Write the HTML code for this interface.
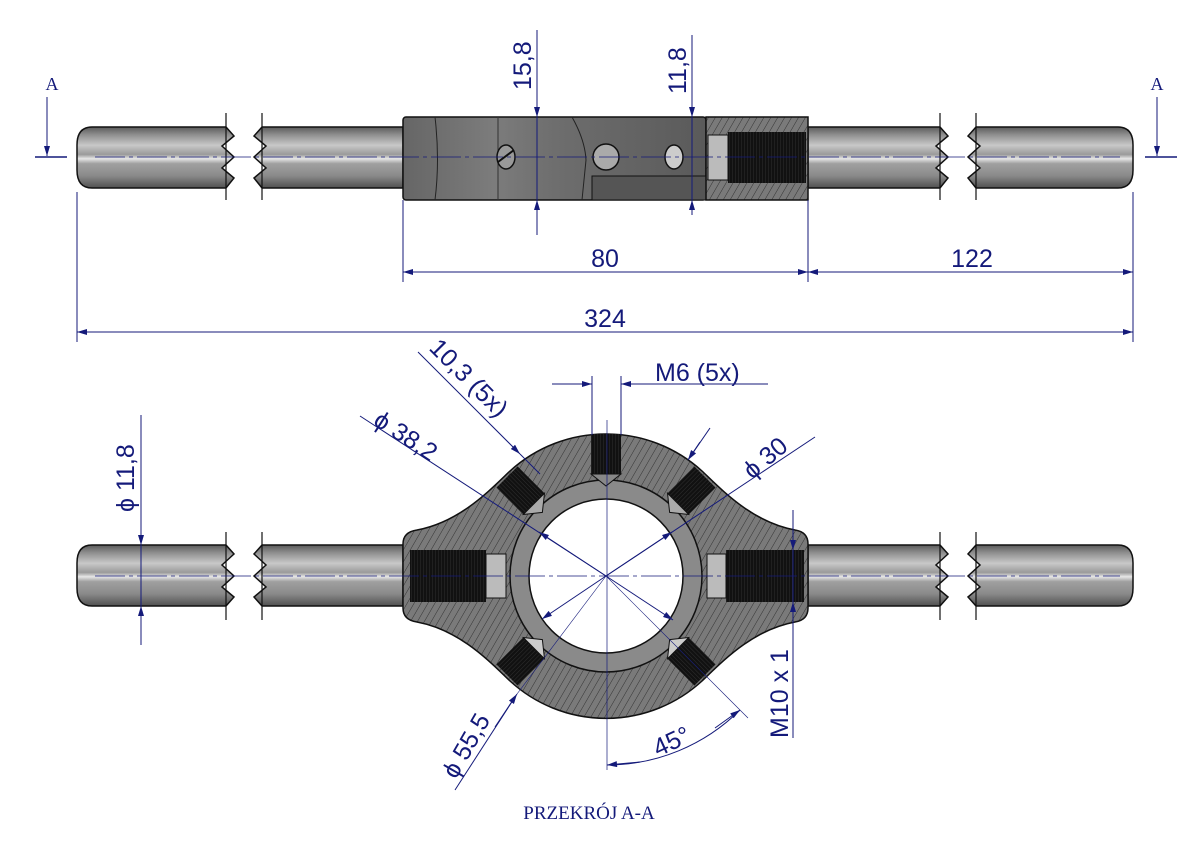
<!DOCTYPE html>
<html><head><meta charset="utf-8"><style>
html,body{margin:0;padding:0;background:#fff;}
svg{display:block;}
text{font-family:"Liberation Sans",sans-serif;fill:#141a7a;}
</style></head><body>
<svg width="1191" height="842" viewBox="0 0 1191 842" xmlns="http://www.w3.org/2000/svg">
<defs>
<linearGradient id="rod" x1="0" y1="0" x2="0" y2="1">
<stop offset="0" stop-color="#5a5a5a"/><stop offset="0.12" stop-color="#8c8c8c"/>
<stop offset="0.3" stop-color="#c8c8c8"/><stop offset="0.45" stop-color="#9a9a9a"/>
<stop offset="0.52" stop-color="#e6e6e6"/><stop offset="0.6" stop-color="#a0a0a0"/>
<stop offset="0.8" stop-color="#8a8a8a"/><stop offset="1" stop-color="#505050"/>
</linearGradient>
<linearGradient id="body" x1="0" y1="0" x2="1" y2="0">
<stop offset="0" stop-color="#666"/><stop offset="0.3" stop-color="#7c7c7c"/><stop offset="0.5" stop-color="#6e6e6e"/><stop offset="1" stop-color="#5a5a5a"/>
</linearGradient>
<pattern id="hatch" width="6" height="6" patternUnits="userSpaceOnUse" patternTransform="rotate(30)">
<rect width="6" height="6" fill="#7a7a7a"/><line x1="0" y1="0" x2="0" y2="6" stroke="#333" stroke-width="1"/>
</pattern>
<pattern id="thr" width="3" height="3" patternUnits="userSpaceOnUse">
<rect width="3" height="3" fill="#111"/><line x1="0" y1="0" x2="0" y2="3" stroke="#444" stroke-width="0.6"/>
</pattern>
<marker id="ar" viewBox="0 0 10 6" refX="10" refY="3" markerWidth="14" markerHeight="6" markerUnits="userSpaceOnUse" orient="auto-start-reverse"><path d="M0,0 L10,3 L0,6 Z" fill="#141a7a"/></marker>
</defs>

<!-- ================= TOP VIEW ================= -->
<g stroke="#111" stroke-width="1.5">
<path d="M92,127 L226,127 L234,136 L222,146 L234,157 L222,168 L234,178 L226,188 L92,188 Q77,188 77,170 L77,145 Q77,127 92,127 Z" fill="url(#rod)"/>
<path d="M262,127 L403,127 L403,188 L262,188 L254,178 L266,168 L254,157 L266,146 L254,136 Z" fill="url(#rod)"/>
<path d="M808,127 L940,127 L948,136 L936,146 L948,157 L936,168 L948,178 L940,188 L808,188 Z" fill="url(#rod)"/>
<path d="M976,127 L1118,127 Q1133,127 1133,145 L1133,170 Q1133,188 1118,188 L976,188 L968,178 L980,168 L968,157 L980,146 L968,136 Z" fill="url(#rod)"/>
</g>
<g stroke="#111" stroke-width="1.2" fill="none">
<line x1="226" y1="113" x2="226" y2="200"/><line x1="262" y1="113" x2="262" y2="200"/>
<line x1="940" y1="113" x2="940" y2="200"/><line x1="976" y1="113" x2="976" y2="200"/>
</g>
<rect x="403" y="117" width="303" height="83" rx="3" fill="url(#body)" stroke="#111" stroke-width="1.5"/>
<path d="M572,117 Q585,140 586,160 L582,200" stroke="#222" fill="none"/>
<path d="M435,117 Q440,160 435,200" stroke="#222" fill="none"/>
<path d="M498,117 L498,200" stroke="#333" fill="none"/>
<rect x="592" y="176" width="114" height="24" fill="#555" stroke="#111"/>
<rect x="706" y="117" width="102" height="83" fill="url(#hatch)" stroke="#111" stroke-width="1.5"/>
<rect x="708" y="135" width="20" height="45" fill="#bbb" stroke="#111"/>
<rect x="728" y="132" width="78" height="51" fill="url(#thr)"/>
<ellipse cx="506" cy="157" rx="9" ry="12" fill="#999" stroke="#111" stroke-width="1.5"/>
<line x1="498" y1="162" x2="514" y2="150" stroke="#111" stroke-width="2"/>
<circle cx="606" cy="157" r="13" fill="#aaa" stroke="#111" stroke-width="1.5"/>
<ellipse cx="674" cy="157" rx="9" ry="12" fill="#ccc" stroke="#111" stroke-width="1.5"/>
<line x1="95" y1="157" x2="1120" y2="157" stroke="#141a7a" stroke-width="0.7" stroke-dasharray="30,4,4,4"/>

<g stroke="#141a7a" stroke-width="1" fill="none">
<line x1="537" y1="30" x2="537" y2="235"/>
<line x1="537" y1="80" x2="537" y2="117" marker-end="url(#ar)"/>
<line x1="537" y1="235" x2="537" y2="200" marker-end="url(#ar)"/>
<line x1="692" y1="35" x2="692" y2="215"/>
<line x1="692" y1="80" x2="692" y2="117" marker-end="url(#ar)"/>
<line x1="692" y1="215" x2="692" y2="200" marker-end="url(#ar)"/>
<line x1="403" y1="200" x2="403" y2="282"/><line x1="808" y1="200" x2="808" y2="282"/>
<line x1="77" y1="192" x2="77" y2="342"/><line x1="1133" y1="192" x2="1133" y2="342"/>
<line x1="403" y1="272" x2="808" y2="272" marker-start="url(#ar)" marker-end="url(#ar)"/>
<line x1="808" y1="272" x2="1133" y2="272" marker-start="url(#ar)" marker-end="url(#ar)"/>
<line x1="77" y1="332" x2="1133" y2="332" marker-start="url(#ar)" marker-end="url(#ar)"/>
<line x1="47" y1="97" x2="47" y2="156" marker-end="url(#ar)"/><line x1="35" y1="157" x2="67" y2="157" stroke-width="1.5"/>
<line x1="1157" y1="97" x2="1157" y2="156" marker-end="url(#ar)"/><line x1="1145" y1="157" x2="1177" y2="157" stroke-width="1.5"/>
</g>
<text x="52" y="90" font-size="18" text-anchor="middle" style="font-family:'Liberation Serif',serif">A</text>
<text x="1157" y="90" font-size="18" text-anchor="middle" style="font-family:'Liberation Serif',serif">A</text>
<text transform="translate(531,90) rotate(-90)" font-size="25">15,8</text>
<text transform="translate(686,94) rotate(-90)" font-size="25">11,8</text>
<text x="605" y="267" font-size="25" text-anchor="middle">80</text>
<text x="972" y="267" font-size="25" text-anchor="middle">122</text>
<text x="605" y="327" font-size="25" text-anchor="middle">324</text>

<!-- ================= BOTTOM VIEW ================= -->
<g stroke="#111" stroke-width="1.5">
<path d="M92,545 L226,545 L234,554 L222,565 L234,576 L222,587 L234,597 L226,606 L92,606 Q77,606 77,588 L77,563 Q77,545 92,545 Z" fill="url(#rod)"/>
<path d="M262,545 L403,545 L403,606 L262,606 L254,597 L266,587 L254,576 L266,565 L254,554 Z" fill="url(#rod)"/>
<path d="M808,545 L940,545 L948,554 L936,565 L948,576 L936,587 L948,597 L940,606 L808,606 Z" fill="url(#rod)"/>
<path d="M976,545 L1118,545 Q1133,545 1133,563 L1133,588 Q1133,606 1118,606 L976,606 L968,597 L980,587 L968,576 L980,565 L968,554 Z" fill="url(#rod)"/>
</g>
<g stroke="#111" stroke-width="1.2">
<line x1="226" y1="532" x2="226" y2="620"/><line x1="262" y1="532" x2="262" y2="620"/>
<line x1="940" y1="532" x2="940" y2="620"/><line x1="976" y1="532" x2="976" y2="620"/>
</g>
<path d="M606,434 A142,142 0 0 1 702,471 C722,490 752,522 795,530 Q808,532 808,544 L808,608 Q808,620 795,622 C752,630 722,662 702,681 A142,142 0 0 1 510,681 C490,662 460,630 417,622 Q403,620 403,608 L403,544 Q403,532 417,530 C460,522 490,490 510,471 A142,142 0 0 1 606,434 Z" fill="url(#hatch)" stroke="#111" stroke-width="1.5"/>
<g>
<rect x="410" y="550" width="76" height="52" fill="url(#thr)"/>
<rect x="486" y="554" width="20" height="44" fill="#bbb" stroke="#111"/>
<rect x="726" y="550" width="78" height="52" fill="url(#thr)"/>
<rect x="707" y="554" width="19" height="44" fill="#bbb" stroke="#111"/>
</g>
<circle cx="606" cy="576" r="96" fill="#8a8a8a" stroke="#111" stroke-width="1.5"/>
<circle cx="606" cy="576" r="77" fill="#fff" stroke="#111" stroke-width="1.5"/>
<g transform="translate(606,576)">
<g><rect x="-15" y="-142" width="30" height="40" fill="url(#thr)"/><path d="M-15,-102 L15,-102 L0,-90 Z" fill="#888" stroke="#111"/></g>
<g transform="rotate(45)"><rect x="-15" y="-140" width="30" height="38" fill="url(#thr)"/><path d="M-15,-102 L15,-102 L0,-90 Z" fill="#aaa" stroke="#111"/></g>
<g transform="rotate(-45)"><rect x="-15" y="-140" width="30" height="38" fill="url(#thr)"/><path d="M-15,-102 L15,-102 L0,-90 Z" fill="#aaa" stroke="#111"/></g>
<g transform="rotate(135)"><rect x="-15" y="-140" width="30" height="38" fill="url(#thr)"/><path d="M-15,-102 L15,-102 L0,-90 Z" fill="#ccc" stroke="#111"/></g>
<g transform="rotate(-135)"><rect x="-15" y="-140" width="30" height="38" fill="url(#thr)"/><path d="M-15,-102 L15,-102 L0,-90 Z" fill="#ccc" stroke="#111"/></g>
</g>
<g stroke="#141a7a" stroke-width="0.7" fill="none">
<line x1="95" y1="576" x2="1120" y2="576" stroke-dasharray="30,4,4,4"/>
<line x1="607" y1="420" x2="607" y2="770"/>
</g>
<g stroke="#141a7a" stroke-width="1" fill="none">
<line x1="141" y1="415" x2="141" y2="645"/>
<line x1="141" y1="520" x2="141" y2="545" marker-end="url(#ar)"/>
<line x1="141" y1="630" x2="141" y2="606" marker-end="url(#ar)"/>
<line x1="592" y1="376" x2="592" y2="435"/><line x1="621" y1="376" x2="621" y2="435"/>
<line x1="552" y1="384" x2="592" y2="384" marker-end="url(#ar)"/>
<line x1="768" y1="384" x2="621" y2="384" marker-end="url(#ar)"/>
<line x1="418" y1="352" x2="520" y2="454" marker-end="url(#ar)"/>
<line x1="520" y1="454" x2="540" y2="474"/>
<line x1="360" y1="416" x2="606" y2="576"/>
<line x1="606" y1="576" x2="539" y2="532" marker-end="url(#ar)"/>
<line x1="606" y1="576" x2="673" y2="620" marker-end="url(#ar)"/>
<line x1="815" y1="437" x2="606" y2="576"/>
<line x1="606" y1="576" x2="672" y2="532" marker-end="url(#ar)"/>
<line x1="606" y1="576" x2="542" y2="619" marker-end="url(#ar)"/>
<line x1="710" y1="428" x2="688" y2="460"/>
<line x1="700" y1="442" x2="688" y2="460" marker-end="url(#ar)"/>
<line x1="455" y1="790" x2="515" y2="697" />
<line x1="495" y1="727" x2="517" y2="694" marker-end="url(#ar)"/>
<line x1="517" y1="694" x2="606" y2="576" stroke-width="0.6"/>
<line x1="606" y1="576" x2="748" y2="718" stroke-width="0.6"/>
<path d="M607,765 A189,189 0 0 0 740,710" />
<line x1="640" y1="762" x2="607" y2="765" marker-end="url(#ar)"/>
<line x1="715" y1="728" x2="740" y2="710" marker-end="url(#ar)"/>
<line x1="793" y1="510" x2="793" y2="738"/>
<line x1="793" y1="520" x2="793" y2="550" marker-end="url(#ar)"/>
<line x1="793" y1="630" x2="793" y2="602" marker-end="url(#ar)"/>
</g>
<text transform="translate(134,512) rotate(-90)" font-size="25">ϕ 11,8</text>
<text x="655" y="381" font-size="25">M6 (5x)</text>
<text transform="translate(428,349) rotate(45)" font-size="25">10,3  (5x)</text>
<text transform="translate(372,424) rotate(33)" font-size="25">ϕ 38,2</text>
<text transform="translate(752,480) rotate(-40)" font-size="25">ϕ 30</text>
<text transform="translate(456,780) rotate(-60)" font-size="25">ϕ 55,5</text>
<text transform="translate(658,757) rotate(-25)" font-size="25">45°</text>
<text transform="translate(788,738) rotate(-90)" font-size="25">M10 x 1</text>
<text x="589" y="819" font-size="19" text-anchor="middle" style="font-family:'Liberation Serif',serif">PRZEKRÓJ A-A</text>
</svg>
</body></html>
